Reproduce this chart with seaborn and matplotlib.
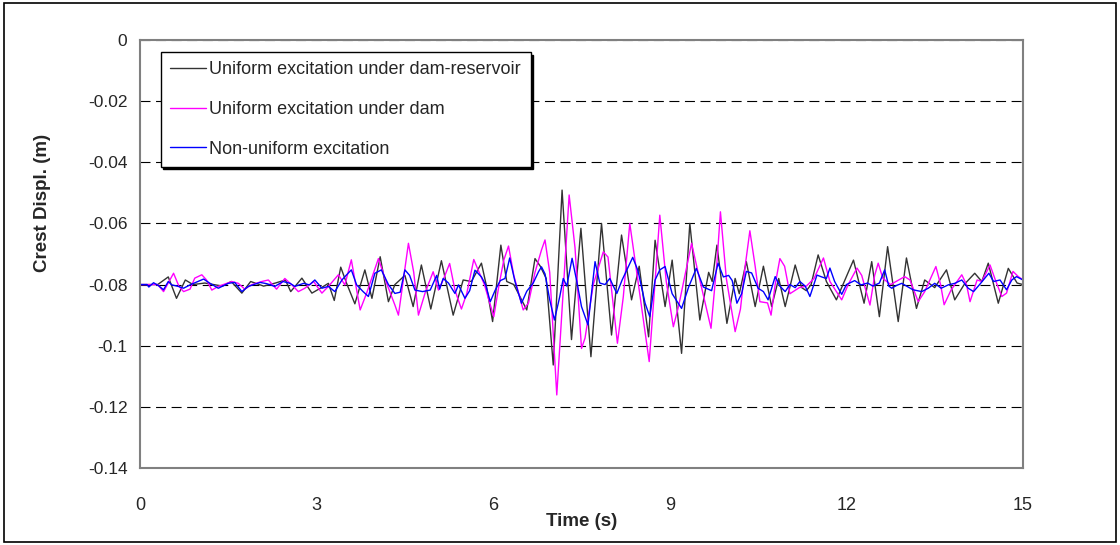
import pandas as pd
import seaborn as sns
import matplotlib.pyplot as plt
from matplotlib.patches import Rectangle

# Zeitverläufe (t in s, Kronenverschiebung in m)
t_black = [0.00, 0.30, 0.48, 0.62, 0.77, 0.90, 1.10, 1.40, 1.55, 1.73, 1.88, 2.10, 2.30, 2.47,
           2.56, 2.75, 2.92, 3.09, 3.20, 3.30, 3.41, 3.51, 3.65, 3.82, 3.94, 4.08, 4.22, 4.33,
           4.50, 4.64, 4.78, 4.94, 5.12, 5.32, 5.49, 5.63, 5.80, 5.88, 5.99, 6.13, 6.23, 6.35,
           6.57, 6.71, 6.80, 6.90, 7.02, 7.17, 7.33, 7.49, 7.66, 7.84, 8.01, 8.18, 8.35, 8.48,
           8.64, 8.75, 8.92, 9.04, 9.20, 9.34, 9.51, 9.66, 9.72, 9.80, 9.97, 10.11, 10.18, 10.30,
           10.45, 10.59, 10.73, 10.85, 10.96, 11.13, 11.24, 11.32, 11.40, 11.52, 11.66, 11.83,
           12.12, 12.30, 12.43, 12.56, 12.70, 12.88, 13.02, 13.19, 13.33, 13.50, 13.70, 13.84,
           14.00, 14.18, 14.30, 14.41, 14.58, 14.75, 14.90, 15.00]
d_black = [-0.0800, -0.0800, -0.0775, -0.0845, -0.0785, -0.0800, -0.0795, -0.0805, -0.0790, -0.0828,
           -0.0790, -0.0805, -0.0795, -0.0785, -0.0823, -0.0779, -0.0828, -0.0809, -0.0796, -0.0852,
           -0.0743, -0.0796, -0.0863, -0.0752, -0.0845, -0.0709, -0.0856, -0.0800, -0.0770, -0.0872,
           -0.0736, -0.0880, -0.0722, -0.0900, -0.0785, -0.0790, -0.0730, -0.0800, -0.0921, -0.0671,
           -0.0790, -0.0800, -0.0883, -0.0715, -0.0740, -0.0780, -0.1063, -0.0491, -0.0980, -0.0616,
           -0.1036, -0.0600, -0.0965, -0.0638, -0.0850, -0.0740, -0.0971, -0.0655, -0.0872, -0.0720,
           -0.1025, -0.0600, -0.0916, -0.0760, -0.0790, -0.0671, -0.0927, -0.0780, -0.0830, -0.0725,
           -0.0872, -0.0740, -0.0872, -0.0780, -0.0872, -0.0736, -0.0810, -0.0820, -0.0800, -0.0703,
           -0.0790, -0.0850, -0.0720, -0.0861, -0.0725, -0.0905, -0.0676, -0.0921, -0.0713, -0.0878,
           -0.0785, -0.0810, -0.0752, -0.0850, -0.0800, -0.0763, -0.0790, -0.0730, -0.0861, -0.0747,
           -0.0795, -0.0800]

t_mag = [0.00, 0.30, 0.40, 0.57, 0.66, 0.74, 0.85, 0.93, 1.05, 1.13, 1.22, 1.33, 1.56, 1.67,
         1.78, 1.90, 2.07, 2.18, 2.32, 2.46, 2.58, 2.69, 2.80, 2.95, 3.09, 3.20, 3.37, 3.48,
         3.59, 3.74, 3.85, 4.05, 4.19, 4.33, 4.39, 4.48, 4.56, 4.65, 4.73, 4.85, 4.98, 5.07,
         5.15, 5.26, 5.35, 5.46, 5.55, 5.67, 5.75, 5.85, 6.01, 6.10, 6.18, 6.26, 6.35, 6.51,
         6.60, 6.71, 6.82, 6.88, 6.96, 7.08, 7.17, 7.29, 7.39, 7.50, 7.56, 7.70, 7.87, 7.95,
         8.11, 8.21, 8.32, 8.46, 8.65, 8.75, 8.83, 8.94, 9.06, 9.15, 9.37, 9.48, 9.70, 9.80,
         9.86, 9.96, 10.11, 10.20, 10.28, 10.36, 10.45, 10.53, 10.66, 10.72, 10.79, 10.87, 10.95,
         11.04, 11.20, 11.32, 11.45, 11.61, 11.72, 11.92, 12.03, 12.18, 12.26, 12.40, 12.48,
         12.54, 12.62, 12.75, 12.99, 13.08, 13.22, 13.33, 13.52, 13.60, 13.66, 13.78, 13.96,
         14.04, 14.10, 14.22, 14.30, 14.44, 14.53, 14.64, 14.72, 14.83, 14.92, 15.00]
d_mag = [-0.0800, -0.0800, -0.0823, -0.0763, -0.0805, -0.0823, -0.0815, -0.0779, -0.0768, -0.0785,
         -0.0818, -0.0806, -0.0790, -0.0796, -0.0815, -0.0800, -0.0790, -0.0785, -0.0815, -0.0780,
         -0.0801, -0.0823, -0.0812, -0.0790, -0.0828, -0.0806, -0.0768, -0.0801, -0.0719, -0.0883,
         -0.0828, -0.0715, -0.0796, -0.0867, -0.0900, -0.0775, -0.0665, -0.0760, -0.0900, -0.0823,
         -0.0758, -0.0818, -0.0785, -0.0731, -0.0818, -0.0880, -0.0830, -0.0718, -0.0755, -0.0800,
         -0.0905, -0.0800, -0.0720, -0.0674, -0.0770, -0.0883, -0.0860, -0.0760, -0.0687, -0.0654,
         -0.0760, -0.1161, -0.0880, -0.0507, -0.0680, -0.1009, -0.0975, -0.0800, -0.0693, -0.0710,
         -0.0992, -0.0840, -0.0600, -0.0790, -0.1052, -0.0790, -0.0573, -0.0790, -0.0938, -0.0870,
         -0.0665, -0.0760, -0.0943, -0.0730, -0.0562, -0.0780, -0.0954, -0.0880, -0.0740, -0.0624,
         -0.0740, -0.0856, -0.0860, -0.0900, -0.0800, -0.0715, -0.0740, -0.0830, -0.0810, -0.0805,
         -0.0780, -0.0713, -0.0790, -0.0850, -0.0800, -0.0746, -0.0770, -0.0867, -0.0770, -0.0730,
         -0.0780, -0.0800, -0.0774, -0.0785, -0.0856, -0.0823, -0.0741, -0.0800, -0.0866, -0.0817,
         -0.0768, -0.0800, -0.0856, -0.0785, -0.0790, -0.0736, -0.0785, -0.0839, -0.0828, -0.0757,
         -0.0774, -0.0785]

t_blue = [0.00, 0.12, 0.15, 0.23, 0.31, 0.40, 0.48, 0.54, 0.65, 0.74, 0.85, 1.08, 1.19, 1.33,
          1.50, 1.61, 1.73, 1.84, 2.04, 2.15, 2.29, 2.43, 2.55, 2.63, 2.78, 2.88, 2.97, 3.09,
          3.20, 3.31, 3.43, 3.51, 3.59, 3.68, 3.79, 3.88, 3.99, 4.10, 4.22, 4.33, 4.42, 4.50,
          4.58, 4.67, 4.80, 4.93, 5.04, 5.09, 5.15, 5.24, 5.35, 5.41, 5.52, 5.60, 5.69, 5.80,
          5.87, 5.95, 6.03, 6.12, 6.20, 6.28, 6.37, 6.48, 6.57, 6.68, 6.77, 6.82, 6.88, 6.96,
          7.04, 7.13, 7.19, 7.25, 7.34, 7.42, 7.50, 7.61, 7.73, 7.81, 7.90, 7.98, 8.10, 8.19,
          8.37, 8.46, 8.58, 8.66, 8.75, 8.83, 8.92, 9.04, 9.20, 9.32, 9.45, 9.57, 9.71, 9.82,
          9.91, 10.00, 10.06, 10.14, 10.22, 10.30, 10.39, 10.50, 10.59, 10.67, 10.79, 10.87,
          10.96, 11.04, 11.13, 11.21, 11.30, 11.38, 11.50, 11.58, 11.66, 11.72, 11.80, 11.92,
          12.00, 12.14, 12.25, 12.36, 12.45, 12.56, 12.65, 12.72, 12.77, 12.85, 12.94, 13.03,
          13.13, 13.28, 13.39, 13.50, 13.61, 13.73, 13.84, 13.96, 14.07, 14.16, 14.28, 14.42,
          14.50, 14.61, 14.72, 14.81, 14.89, 15.00]
d_blue = [-0.0800, -0.0800, -0.0808, -0.0794, -0.0803, -0.0817, -0.0790, -0.0801, -0.0806, -0.0812,
          -0.0801, -0.0782, -0.0796, -0.0812, -0.0796, -0.0793, -0.0823, -0.0806, -0.0793, -0.0797,
          -0.0806, -0.0790, -0.0796, -0.0806, -0.0796, -0.0801, -0.0785, -0.0812, -0.0806, -0.0823,
          -0.0785, -0.0768, -0.0752, -0.0801, -0.0823, -0.0839, -0.0763, -0.0752, -0.0800, -0.0829,
          -0.0825, -0.0752, -0.0770, -0.0818, -0.0823, -0.0818, -0.0770, -0.0815, -0.0780, -0.0795,
          -0.0829, -0.0801, -0.0845, -0.0820, -0.0753, -0.0775, -0.0800, -0.0856, -0.0820, -0.0787,
          -0.0780, -0.0713, -0.0790, -0.0861, -0.0822, -0.0795, -0.0758, -0.0742, -0.0765, -0.0850,
          -0.0916, -0.0840, -0.0780, -0.0805, -0.0714, -0.0790, -0.0872, -0.0932, -0.0725, -0.0795,
          -0.0800, -0.0780, -0.0829, -0.0785, -0.0711, -0.0755, -0.0861, -0.0905, -0.0785, -0.0752,
          -0.0741, -0.0830, -0.0878, -0.0808, -0.0747, -0.0808, -0.0820, -0.0730, -0.0775, -0.0770,
          -0.0787, -0.0861, -0.0830, -0.0757, -0.0762, -0.0812, -0.0823, -0.0850, -0.0774, -0.0805,
          -0.0823, -0.0800, -0.0810, -0.0790, -0.0805, -0.0839, -0.0769, -0.0775, -0.0780, -0.0746,
          -0.0790, -0.0832, -0.0800, -0.0787, -0.0801, -0.0795, -0.0805, -0.0795, -0.0752, -0.0805,
          -0.0812, -0.0803, -0.0796, -0.0806, -0.0817, -0.0823, -0.0812, -0.0796, -0.0812, -0.0801,
          -0.0796, -0.0785, -0.0812, -0.0823, -0.0796, -0.0763, -0.0790, -0.0785, -0.0817, -0.0785,
          -0.0774, -0.0785]

labels = ["Uniform excitation under dam-reservoir",
          "Uniform excitation under dam",
          "Non-uniform excitation"]
colors = ["#333333", "#ff00ff", "#0000ff"]

x_ticks = [0, 3, 6, 9, 12, 15]
y_ticks = [0, -0.02, -0.04, -0.06, -0.08, -0.1, -0.12, -0.14]
y_ticklabels = ["0", "-0.02", "-0.04", "-0.06", "-0.08", "-0.1", "-0.12", "-0.14"]

sns.set_style("white")
plt.rcParams["font.family"] = ["Liberation Sans", "DejaVu Sans"]

fig = plt.figure(figsize=(11.2, 5.45), dpi=100)
ax = fig.add_axes([0.125, 0.1413, 0.7884, 0.7853])

serien = [(t_black, d_black), (t_mag, d_mag), (t_blue, d_blue)]
for (t, d), lab, col in zip(serien, labels, colors):
    df = pd.DataFrame({"t": t, "d": d})
    sns.lineplot(data=df, x="t", y="d", ax=ax, color=col, lw=1.0, label=lab, sort=False)

ax.set_xlim(0, 15)
ax.set_ylim(-0.14, 0)
ax.set_xticks(x_ticks)
ax.set_xticklabels([str(v) for v in x_ticks], fontsize=13)
ax.set_yticks(y_ticks)
ax.set_yticklabels(y_ticklabels, fontsize=12.5)
ax.tick_params(axis="both", length=0)
ax.tick_params(axis="y", pad=9)
ax.tick_params(axis="x", pad=21)

ax.grid(axis="y", color="black", lw=0.8, ls=(0, (9, 5)))
ax.set_axisbelow(True)
for s in ax.spines.values():
    s.set_color("#808080")
    s.set_linewidth(1.5)

ax.set_xlabel("Time (s)", fontsize=13.5, fontweight="bold", labelpad=-1)
ax.set_ylabel("Crest Displ. (m)", fontsize=13.5, fontweight="bold")
ax.yaxis.set_label_coords(-0.101, 0.62)

leg = ax.legend(loc="upper left", bbox_to_anchor=(0.0234, 0.698, 0.419, 0.273), mode="expand",
                borderaxespad=0, fontsize=13, frameon=True, fancybox=False, framealpha=1,
                edgecolor="black", shadow={"color": "black", "alpha": 1}, handlelength=2.0,
                handletextpad=0.15, labelspacing=1.25, borderpad=0.5)
leg.get_frame().set_linewidth(1.0)

# Rahmen um das ganze Bild
fig.patches.append(Rectangle((0.004, 0.005), 0.992, 0.99, transform=fig.transFigure,
                             fill=False, edgecolor="black", lw=1.2))

plt.savefig("out.png", dpi=100)
